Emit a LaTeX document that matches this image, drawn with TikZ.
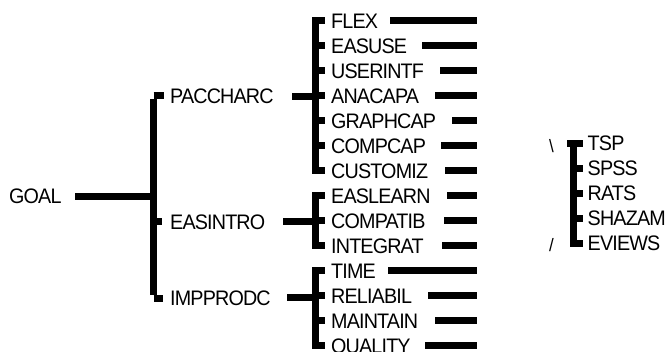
\documentclass[tikz,border=0pt]{standalone}
\usepackage{fontspec}
\setmainfont[FakeStretch=0.94,LetterSpace=-4]{Liberation Sans}
\begin{document}
\begin{tikzpicture}[x=1pt,y=-1pt,
  lbl/.style={anchor=base west,inner sep=0pt,font=\fontsize{21}{24}\selectfont},
  bar/.style={line width=7pt,line cap=butt},
  tick/.style={line width=7pt,line cap=butt}]
\useasboundingbox (0,0) rectangle (666,351);
% level 0
\node[lbl] (goal) at (9,203) {GOAL};
\coordinate (goalr) at (75,196);
\coordinate (b1top) at (153.5,95);
\coordinate (b1bot) at (153.5,298);
\draw[bar] (goalr) -- (goalr -| b1top);
\draw[bar] ([yshift=-3.5pt]b1top) -- ([yshift=3.5pt]b1bot);
% level 1 nodes
\node[lbl] (paccharc) at (170,103.5) {PACCHARC};
\node[lbl] (easintro) at (170,229) {EASINTRO};
\node[lbl] (impprodc) at (170,305) {IMPPRODC};
\draw[tick] (b1top) -- (164,95);
\draw[tick] (153.5,221) -- (162,221);
\draw[tick] (b1bot) -- (163,298);
% level 1 -> level 2 connectors
\coordinate (ga) at (315.5,20);
\coordinate (gab) at (315.5,170);
\coordinate (gb) at (315.5,195);
\coordinate (gbb) at (315.5,245);
\coordinate (gc) at (315.5,270);
\coordinate (gcb) at (315.5,345);
\draw[bar] (292,96) -- (315.5,96);
\draw[bar] (283,221) -- (315.5,221);
\draw[bar] (287,297) -- (315.5,297);
\draw[bar] ([yshift=-3.5pt]ga) -- ([yshift=3.5pt]gab);
\draw[bar] ([yshift=-3.5pt]gb) -- ([yshift=3.5pt]gbb);
\draw[bar] ([yshift=-3.5pt]gc) -- ([yshift=3.5pt]gcb);
% leaves
\foreach \nm/\txt/\i/\ls in {flex/FLEX/0/390, easuse/EASUSE/1/422, userintf/USERINTF/2/440,
  anacapa/ANACAPA/3/435, graphcap/GRAPHCAP/4/452, compcap/COMPCAP/5/441, customiz/CUSTOMIZ/6/445,
  easlearn/EASLEARN/7/447, compatib/COMPATIB/8/444, integrat/INTEGRAT/9/442,
  time/TIME/10/388, reliabil/RELIABIL/11/428, maintain/MAINTAIN/12/435, quality/QUALITY/13/425}{
  \pgfmathsetmacro{\yy}{20.5+25*\i}
  \node[lbl] (\nm) at (331,\yy+7.5) {\txt};
  \draw[tick] (312,\yy) -- (325,\yy);
  \coordinate (\nm-l) at (\ls,\yy);
  \coordinate (\nm-r) at (477,\yy);
  \draw[bar] (\nm-l) -- (\nm-r);
}
% software group
\coordinate (sw) at (573.5,143.5);
\coordinate (swb) at (573.5,243.5);
\draw[bar] ([yshift=-3.5pt]sw) -- ([yshift=3.5pt]swb);
\draw[tick] (567,143.5) -- (583,143.5);
\foreach \nm/\txt/\i in {tsp/TSP/0, spss/SPSS/1, rats/RATS/2, shazam/SHAZAM/3, eviews/EVIEWS/4}{
  \pgfmathsetmacro{\yy}{143.5+25*\i}
  \node[lbl] (\nm) at (587.5,\yy+7.3) {\txt};
  \draw[tick] (570,\yy) -- (583,\yy);
}
\node[lbl,font=\fontsize{18}{20}\selectfont] (bsl) at (549,152) {\textbackslash};
\node[lbl,font=\fontsize{18}{20}\selectfont] (sl) at (549,251) {/};
\end{tikzpicture}
\end{document}
